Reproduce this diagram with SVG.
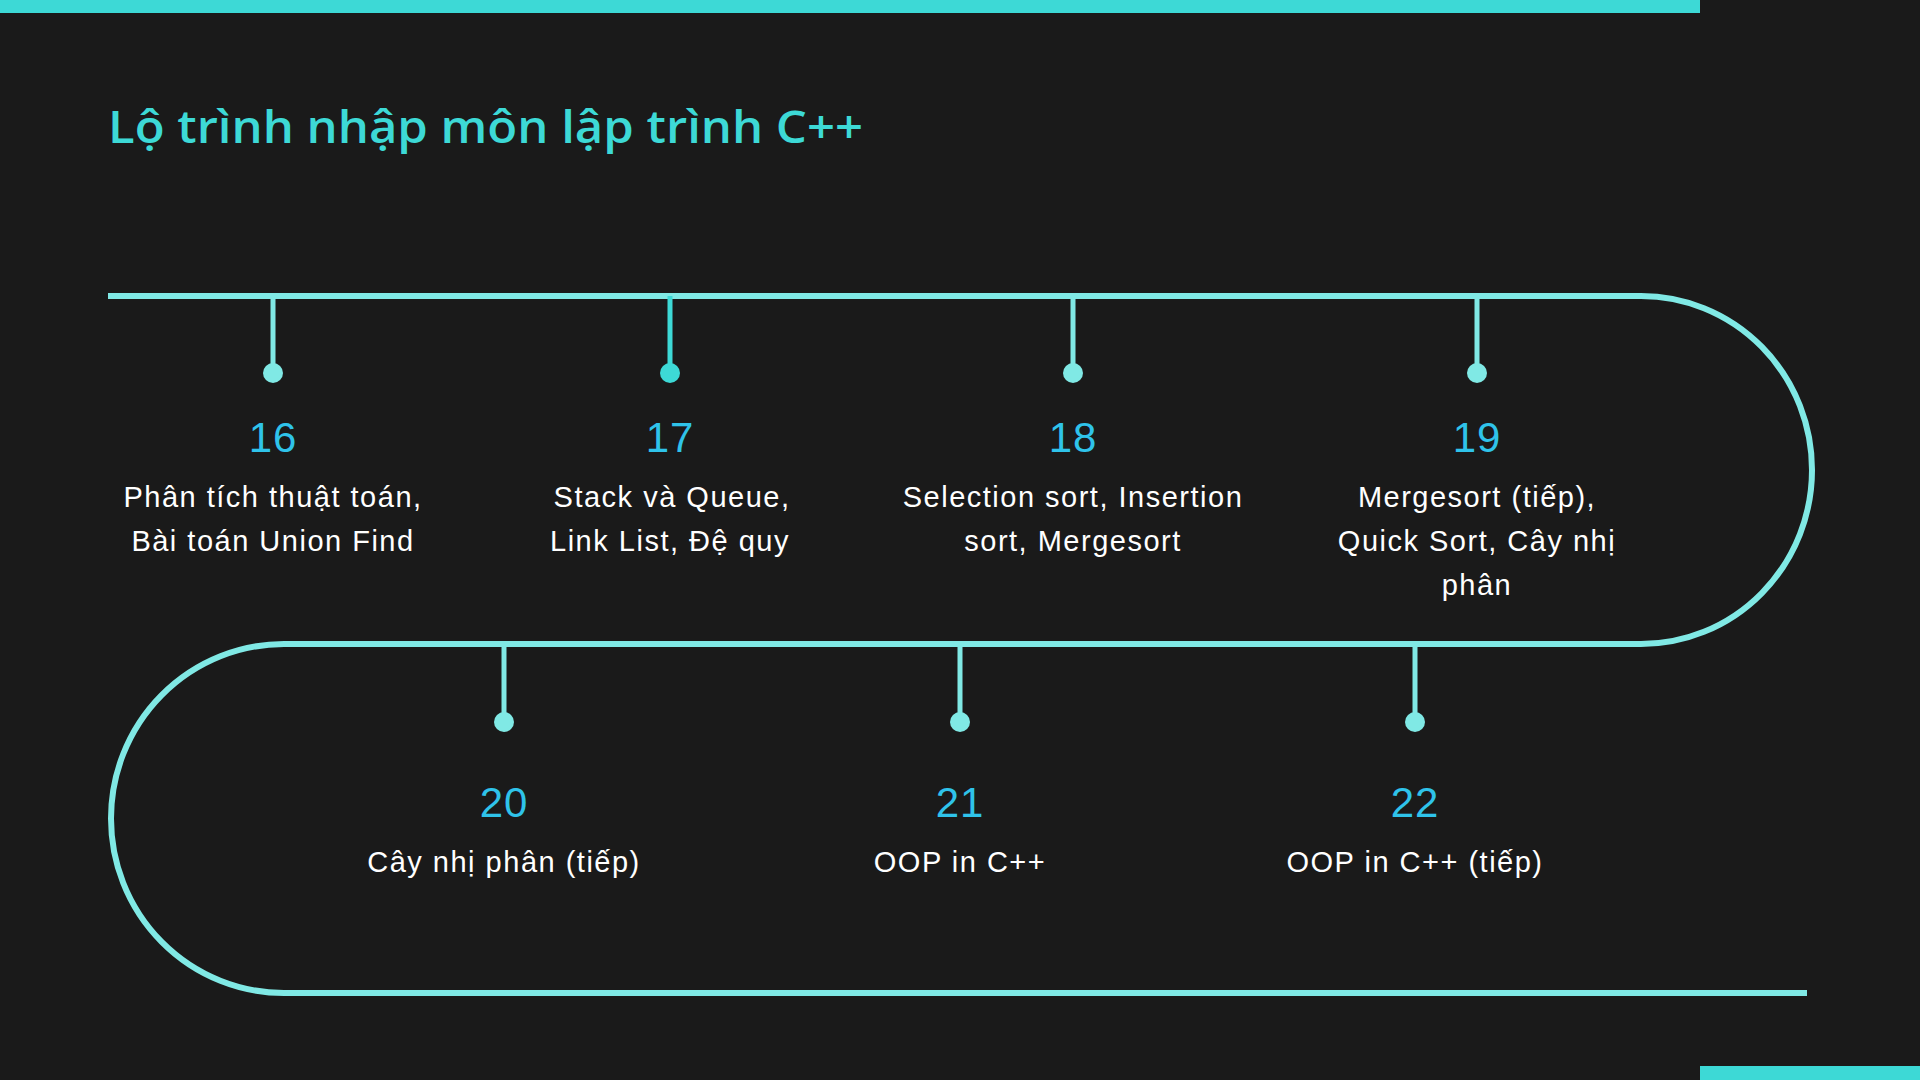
<svg xmlns="http://www.w3.org/2000/svg" width="1920" height="1080" viewBox="0 0 1920 1080">
<style>
.track{fill:none;stroke:#80e9e5;stroke-width:6}
.stem{stroke:#80e9e5;stroke-width:5}
.dot{fill:#80e9e5}
.stem2{stroke:#3dd9d6;stroke-width:5}
.dot2{fill:#3dd9d6}
.num{font-family:"Liberation Sans",Arial,sans-serif;font-size:42px;fill:#2fc3ea;text-anchor:middle;letter-spacing:1px}
.desc{font-family:"Liberation Sans",Arial,sans-serif;font-size:29px;fill:#ffffff;text-anchor:middle;letter-spacing:1.5px}
.title{font-family:"Open Sans","Noto Sans",sans-serif;font-size:45px;font-weight:600;fill:#3dd9d6}
</style>
<rect width="1920" height="1080" fill="#1a1a1a"/>
<rect x="0" y="0" width="1700" height="13" fill="#3dd9d6"/>
<rect x="1700" y="1066" width="220" height="14" fill="#3dd9d6"/>
<text class="title" x="108" y="143" textLength="755" lengthAdjust="spacingAndGlyphs">Lộ trình nhập môn lập trình C++</text>
<g id="connectors">
<path class="track" d="M108 296 H1641 A171 174 0 0 1 1641 644 H284 A173 174.5 0 0 0 284 993 H1807"/>
</g>
<g id="node-16">
<line class="stem" x1="273" y1="296" x2="273" y2="372"/>
<circle class="dot" cx="273" cy="373" r="10"/>
<text class="num" x="273" y="452">16</text>
<text class="desc" x="273" y="507">Phân tích thuật toán,</text>
<text class="desc" x="273" y="551">Bài toán Union Find</text>
</g>
<g id="node-17">
<line class="stem2" x1="670" y1="296" x2="670" y2="372"/>
<circle class="dot2" cx="670" cy="373" r="10"/>
<text class="num" x="670" y="452">17</text>
<text class="desc" x="672" y="507">Stack và Queue,</text>
<text class="desc" x="670" y="551">Link List, Đệ quy</text>
</g>
<g id="node-18">
<line class="stem" x1="1073" y1="296" x2="1073" y2="372"/>
<circle class="dot" cx="1073" cy="373" r="10"/>
<text class="num" x="1073" y="452">18</text>
<text class="desc" x="1073" y="507">Selection sort, Insertion</text>
<text class="desc" x="1073" y="551">sort, Mergesort</text>
</g>
<g id="node-19">
<line class="stem" x1="1477" y1="296" x2="1477" y2="372"/>
<circle class="dot" cx="1477" cy="373" r="10"/>
<text class="num" x="1477" y="452">19</text>
<text class="desc" x="1477" y="507">Mergesort (tiếp),</text>
<text class="desc" x="1477" y="551">Quick Sort, Cây nhị</text>
<text class="desc" x="1477" y="595">phân</text>
</g>
<g id="node-20">
<line class="stem" x1="504" y1="644" x2="504" y2="721"/>
<circle class="dot" cx="504" cy="722" r="10"/>
<text class="num" x="504" y="817">20</text>
<text class="desc" x="504" y="872">Cây nhị phân (tiếp)</text>
</g>
<g id="node-21">
<line class="stem" x1="960" y1="644" x2="960" y2="721"/>
<circle class="dot" cx="960" cy="722" r="10"/>
<text class="num" x="960" y="817">21</text>
<text class="desc" x="960" y="872">OOP in C++</text>
</g>
<g id="node-22">
<line class="stem" x1="1415" y1="644" x2="1415" y2="721"/>
<circle class="dot" cx="1415" cy="722" r="10"/>
<text class="num" x="1415" y="817">22</text>
<text class="desc" x="1415" y="872">OOP in C++ (tiếp)</text>
</g>
</svg>
